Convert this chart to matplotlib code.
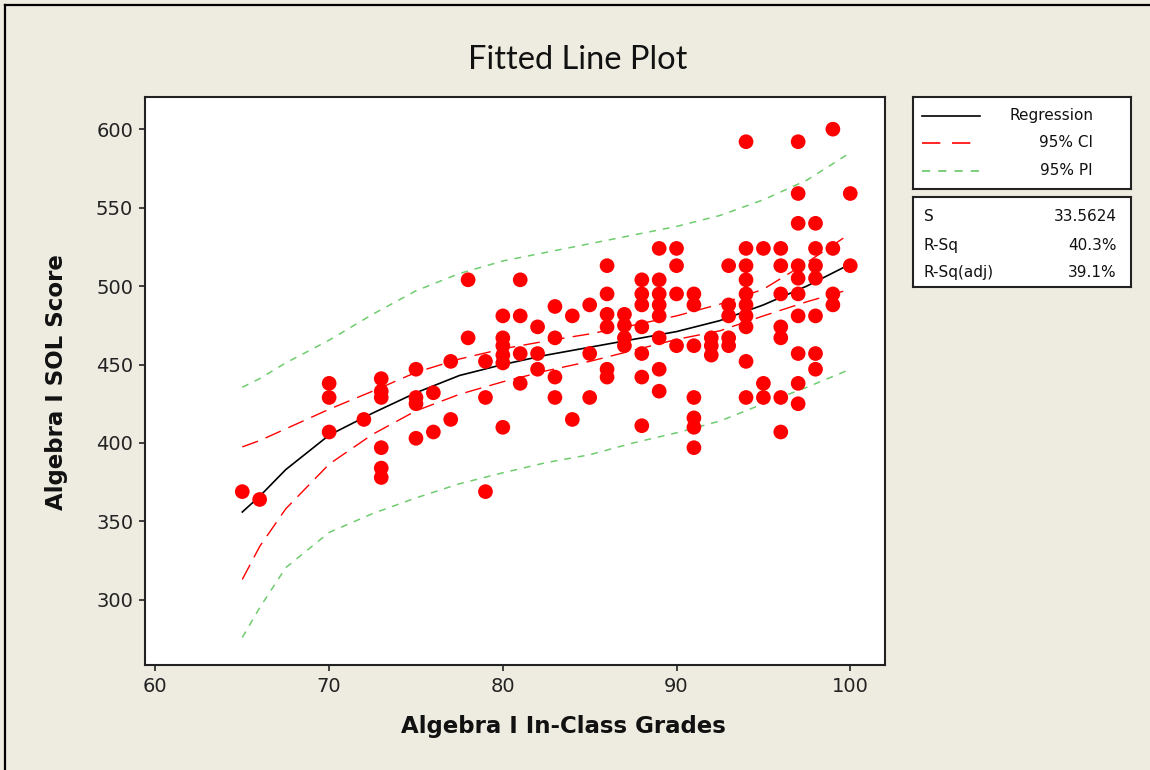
import matplotlib
matplotlib.use("Agg")
import matplotlib.pyplot as plt
from matplotlib.lines import Line2D

# scatter data
grades = [65, 66,
          70, 70, 70, 72,
          73, 73, 73, 73, 73, 73,
          75, 75, 75, 75, 76, 76, 77, 77, 78, 78,
          79, 79, 79,
          80, 80, 80, 80, 80, 80,
          81, 81, 81, 81, 82, 82, 82,
          83, 83, 83, 83, 84, 84, 85, 85, 85,
          86, 86, 86, 86, 86, 86,
          87, 87, 87, 87,
          88, 88, 88, 88, 88, 88, 88,
          89, 89, 89, 89, 89, 89, 89, 89,
          90, 90, 90, 90,
          91, 91, 91, 91, 91, 91, 91,
          92, 92, 92,
          93, 93, 93, 93, 93,
          94, 94, 94, 94, 94, 94, 94, 94, 94, 94,
          95, 95, 95,
          96, 96, 96, 96, 96, 96, 96,
          97, 97, 97, 97, 97, 97, 97, 97, 97, 97,
          98, 98, 98, 98, 98, 98, 98,
          99, 99, 99, 99,
          100, 100]
sol_scores = [369, 364,
              438, 429, 407, 415,
              441, 433, 429, 397, 384, 378,
              447, 429, 425, 403, 432, 407, 452, 415, 504, 467,
              452, 429, 369,
              481, 467, 462, 456, 451, 410,
              504, 481, 457, 438, 474, 457, 447,
              487, 467, 442, 429, 481, 415, 488, 457, 429,
              513, 495, 482, 474, 447, 442,
              482, 475, 467, 462,
              504, 495, 488, 474, 457, 442, 411,
              524, 504, 495, 488, 481, 467, 447, 433,
              524, 513, 495, 462,
              495, 488, 462, 429, 416, 410, 397,
              467, 462, 456,
              513, 488, 481, 467, 462,
              592, 524, 513, 504, 495, 488, 481, 474, 452, 429,
              524, 438, 429,
              524, 513, 495, 474, 467, 429, 407,
              592, 559, 540, 513, 505, 495, 481, 457, 438, 425,
              540, 524, 513, 505, 481, 457, 447,
              600, 524, 495, 488,
              559, 513]

# fitted curve and bands
curve_x = [65, 66, 67.5, 70, 72.5, 75, 77.5, 80, 82.5, 85, 87.5, 90, 92.5, 95, 97.5, 100]
fit_y = [356, 366, 383, 405, 419, 432, 443, 450, 456, 461, 466, 471, 478, 488, 500, 514]
ci_upper = [397.5, 401.5, 409, 421.5, 433, 445, 453.5, 460, 465, 469.5, 475, 481, 488.5, 498, 515, 533.5]
ci_lower = [313, 334, 358, 386.5, 405.5, 420.5, 431, 439, 446, 452, 459, 466, 471.5, 481, 490, 498]
pi_upper = [435.5, 441, 451, 465.5, 482, 497, 508, 516, 521.5, 527, 532.5, 538, 545, 555, 567.5, 585]
pi_lower = [276, 295, 320.5, 343, 355, 365, 374, 381, 387.5, 392.5, 400, 406.5, 414, 425, 435.5, 447]

stat_names = ["S", "R-Sq", "R-Sq(adj)"]
stat_values = ["33.5624", "40.3%", "39.1%"]
legend_labels = ["Regression", "95% CI", "95% PI"]

W, H = 1150, 770
bg = "#EEEBE1"
red = "#FF0000"
green = "#6FCC6F"
ci_dash = (12, 6)
pi_dash = (4.5, 4.5)

fig = plt.figure(figsize=(W / 100, H / 100), dpi=100, facecolor=bg)


def fx(px):
    return px / W


def fy(py):
    return 1 - py / H


ax = fig.add_axes([fx(145), fy(665), fx(885) - fx(145), fy(97) - fy(665)])
ax.set_facecolor("white")

ax.plot(curve_x, pi_upper, color=green, lw=1.1, dashes=pi_dash)
ax.plot(curve_x, pi_lower, color=green, lw=1.1, dashes=pi_dash)
ax.plot(curve_x, ci_upper, color=red, lw=1.0, dashes=ci_dash)
ax.plot(curve_x, ci_lower, color=red, lw=1.0, dashes=ci_dash)
ax.plot(curve_x, fit_y, color="black", lw=1.2)
ax.scatter(grades, sol_scores, s=112, color=red, edgecolors="none", zorder=3)

ax.set_xlim(59.4, 102)
ax.set_ylim(258.5, 620.5)
ax.set_xticks([60, 70, 80, 90, 100])
ax.set_yticks([300, 350, 400, 450, 500, 550, 600])
ax.tick_params(direction="out", length=4.5, width=1.2, labelsize=14,
               colors="#222222", pad=4)
for sp in ax.spines.values():
    sp.set_linewidth(1.5)
    sp.set_color("#222222")

fig.text(fx(578), fy(60), "Fitted Line Plot", family="Lato", fontsize=23.5,
         ha="center", va="center", color="#111111")
fig.text(fx(563), fy(727), "Algebra I In-Class Grades", fontsize=16.5,
         fontweight="bold", ha="center", va="center", color="#111111")
fig.text(fx(57), fy(382), "Algebra I SOL Score", fontsize=16.5,
         fontweight="bold", rotation=90, ha="center", va="center", color="#111111")

# legend box
lg = fig.add_axes([fx(913), fy(189), fx(1131) - fx(913), fy(97) - fy(189)])
lg.set_xlim(0, 1)
lg.set_ylim(0, 1)
lg.set_xticks([])
lg.set_yticks([])
lg.set_facecolor("white")
for sp in lg.spines.values():
    sp.set_linewidth(1.5)
    sp.set_color("#222222")
rows = [0.795, 0.502, 0.196]
styles = [dict(color="black", lw=1.2),
          dict(color=red, lw=1.2, dashes=(11, 7)),
          dict(color=green, lw=1.3, dashes=(4.5, 4.5))]
for yy, lab, st in zip(rows, legend_labels, styles):
    lg.add_line(Line2D([0.041, 0.308], [yy, yy], **st))
    lg.text(0.826, yy, lab, ha="right", va="center", fontsize=11, color="#111111")

# summary box
sb = fig.add_axes([fx(913), fy(287), fx(1131) - fx(913), fy(197) - fy(287)])
sb.set_xlim(0, 1)
sb.set_ylim(0, 1)
sb.set_xticks([])
sb.set_yticks([])
sb.set_facecolor("white")
for sp in sb.spines.values():
    sp.set_linewidth(1.5)
    sp.set_color("#222222")
for yy, name, val in zip([0.786, 0.463, 0.156], stat_names, stat_values):
    sb.text(0.05, yy, name, ha="left", va="center", fontsize=11, color="#111111")
    sb.text(0.935, yy, val, ha="right", va="center", fontsize=11, color="#111111")

# outer frame (top and left edges visible)
fig.add_artist(Line2D([fx(5), fx(5)], [0, fy(5)], color="black", lw=1.6))
fig.add_artist(Line2D([fx(5), 1], [fy(5), fy(5)], color="black", lw=1.6))

fig.savefig("out.png", dpi=100, facecolor=bg)
